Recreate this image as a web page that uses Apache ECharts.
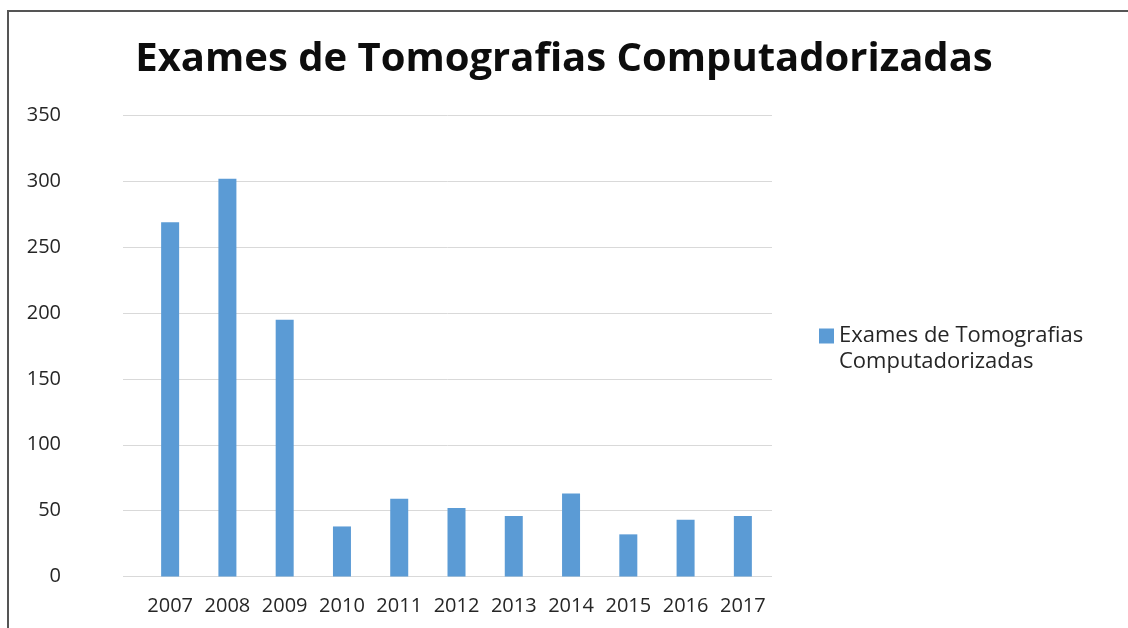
<!DOCTYPE html>
<html>
<head>
<meta charset="utf-8">
<script src="https://cdn.jsdelivr.net/npm/echarts@6/dist/echarts.min.js"></script>
<style>
  html, body { margin: 0; padding: 0; background: #fff; }
  #chart { width: 1128px; height: 628px; }
</style>
</head>
<body>
<div id="chart"></div>
<script>
// Exames de Tomografias Computadorizadas por ano
const titleText = 'Exames de Tomografias Computadorizadas';
const seriesName = 'Exames de Tomografias Computadorizadas';
const years = ['2007', '2008', '2009', '2010', '2011', '2012', '2013', '2014', '2015', '2016', '2017'];
const exams = [269, 302, 195, 38, 59, 52, 46, 63, 32, 43, 46];
const yTicks = { min: 0, max: 350, step: 50 };

const FONT = 'Open Sans';
const chart = echarts.init(document.getElementById('chart'));

chart.setOption({
  animation: false,
  backgroundColor: '#ffffff',
  title: {
    text: titleText,
    left: 'center',
    top: 35,
    textStyle: { fontFamily: FONT, fontSize: 40, fontWeight: 'bold', color: '#0d0d0d' }
  },
  legend: {
    data: [seriesName],
    left: 814,
    top: 294,
    orient: 'vertical',
    icon: 'rect',
    itemWidth: 15,
    itemHeight: 15,
    itemGap: 5,
    formatter: function () {
      return '{a| }\n{a|Exames de Tomografias}\n{a|Computadorizadas}';
    },
    textStyle: {
      fontFamily: FONT,
      fontSize: 22,
      color: '#262626',
      rich: { a: { fontFamily: FONT, fontSize: 22, color: '#262626', lineHeight: 26 } }
    }
  },
  graphic: [{
    type: 'rect',
    shape: { x: 8, y: 11, width: 1140, height: 640 },
    style: { fill: 'none', stroke: '#555555', lineWidth: 2 },
    silent: true,
    z: 10
  }],
  grid: [
    // value scale with gridlines
    { left: 123, right: 356, top: 115.5, bottom: 51.5 },
    // category bands for the bars
    { left: 141.5, right: 356.5, top: 115.5, bottom: 51.5 }
  ],
  xAxis: [
    { gridIndex: 0, type: 'category', data: years, show: false },
    {
      gridIndex: 1,
      type: 'category',
      data: years,
      axisLine: { show: false },
      axisTick: { show: false },
      axisLabel: { interval: 0, fontFamily: FONT, fontSize: 20, color: '#262626', margin: 20 }
    }
  ],
  yAxis: [
    {
      gridIndex: 0,
      type: 'value',
      min: yTicks.min,
      max: yTicks.max,
      interval: yTicks.step,
      axisLine: { show: false },
      axisTick: { show: false },
      axisLabel: { fontFamily: FONT, fontSize: 20, color: '#262626', margin: 62 },
      splitLine: { lineStyle: { color: '#d9d9d9', width: 1 } }
    },
    {
      gridIndex: 1,
      type: 'value',
      min: yTicks.min,
      max: yTicks.max,
      interval: yTicks.step,
      show: false
    }
  ],
  series: [{
    name: seriesName,
    type: 'bar',
    xAxisIndex: 1,
    yAxisIndex: 1,
    data: exams,
    barWidth: 18,
    itemStyle: { color: '#5b9bd5' }
  }]
});
</script>
</body>
</html>
